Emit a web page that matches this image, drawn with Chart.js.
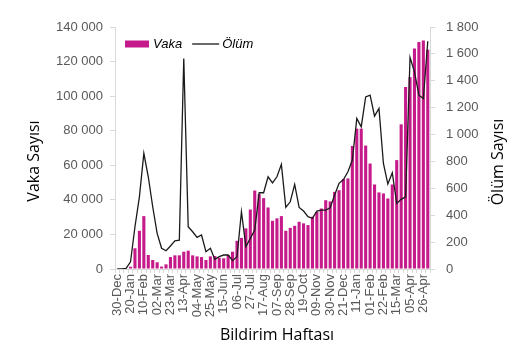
<!DOCTYPE html>
<html lang="tr">
<head>
<meta charset="UTF-8">
<title>Vaka ve Ölüm Sayısı</title>
<script src="https://cdn.jsdelivr.net/npm/chart.js"></script>
<style>
  body { margin: 0; background: #ffffff; }
  #chart { display: block; }
</style>
</head>
<body>
<canvas id="chart" width="518" height="352"></canvas>
<script>
// weekly reporting periods (week start), 30-Dec-2019 .. 03-May-2021
const weeks = ['30-Dec', '06-Jan', '13-Jan', '20-Jan', '27-Jan', '03-Feb', '10-Feb', '17-Feb', '24-Feb',
    '02-Mar', '09-Mar', '16-Mar', '23-Mar', '30-Mar', '06-Apr', '13-Apr', '20-Apr', '27-Apr',
    '04-May', '11-May', '18-May', '25-May', '01-Jun', '08-Jun', '15-Jun', '22-Jun', '29-Jun',
    '06-Jul', '13-Jul', '20-Jul', '27-Jul', '03-Aug', '10-Aug', '17-Aug', '24-Aug', '31-Aug',
    '07-Sep', '14-Sep', '21-Sep', '28-Sep', '05-Oct', '12-Oct', '19-Oct', '26-Oct', '02-Nov',
    '09-Nov', '16-Nov', '23-Nov', '30-Nov', '07-Dec', '14-Dec', '21-Dec', '28-Dec', '04-Jan',
    '11-Jan', '18-Jan', '25-Jan', '01-Feb', '08-Feb', '15-Feb', '22-Feb', '01-Mar', '08-Mar',
    '15-Mar', '22-Mar', '29-Mar', '05-Apr', '12-Apr', '19-Apr', '26-Apr', '03-May'];

// only every third week gets a label on the axis
const labelEvery = 3;

const vaka = [0, 0, 0, 1300, 12000, 22100, 30600, 8100, 5200,
    3900, 1400, 2700, 6900, 7900, 7900, 10000, 10600, 7900,
    7300, 6900, 5200, 7300, 7500, 6500, 6200, 8100, 10000,
    16300, 18000, 23500, 34400, 45400, 43300, 41000, 35600, 27900,
    29300, 30600, 22100, 23800, 25000, 27300, 26400, 25400, 30200,
    33000, 35000, 39800, 39100, 44600, 45600, 52000, 52400, 71200,
    81200, 81200, 71400, 61000, 48900, 44300, 43700, 40800, 48900,
    63000, 83700, 105300, 111000, 127600, 131300, 132200, 126900];

const olum = [0, 0, 5, 54, 314, 537, 860, 686, 463,
    265, 154, 136, 171, 210, 215, 1565, 314, 277,
    235, 253, 129, 154, 72, 92, 104, 104, 62,
    92, 426, 166, 228, 290, 567, 567, 686, 641,
    686, 778, 458, 500, 629, 458, 431, 389, 377,
    431, 438, 438, 455, 550, 637, 666, 723, 810,
    1120, 1057, 1280, 1293, 1137, 1194, 785, 632, 716,
    488, 518, 537, 1573, 1466, 1293, 1268, 1694];

const vakaTicks = { min: 0, max: 140000, step: 20000 };
const olumTicks = { min: 0, max: 1800, step: 200 };

const axisGrey = '#d9d9d9';
const tickGrey = '#595959';
const tickFont = { family: 'Liberation Sans', size: 13 };

// 140000 -> "140 000"
function spaced(v) {
    return String(v).replace(/\B(?=(\d{3})+(?!\d))/g, ' ');
}

// axis titles, drawn where the original puts them
const axisTitles = {
    id: 'axisTitles',
    afterDraw(chart) {
        const ctx = chart.ctx;
        ctx.save();
        ctx.fillStyle = '#000000';
        ctx.font = '16px "Open Sans"';
        ctx.textAlign = 'center';
        ctx.textBaseline = 'middle';
        ctx.fillText('Bildirim Haftası', 277, 335);
        ctx.translate(34, 161);
        ctx.rotate(-Math.PI / 2);
        ctx.fillText('Vaka Sayısı', 0, 0);
        ctx.restore();

        ctx.save();
        ctx.fillStyle = '#000000';
        ctx.font = '16px "Open Sans"';
        ctx.textAlign = 'center';
        ctx.textBaseline = 'middle';
        ctx.translate(498, 162);
        ctx.rotate(-Math.PI / 2);
        ctx.fillText('Ölüm Sayısı', 0, 0);
        ctx.restore();
    }
};

// one-row legend inside the plot, top left (built-in one stacks in chartArea mode)
const inlineLegend = {
    id: 'inlineLegend',
    afterDraw(chart) {
        const ctx = chart.ctx;
        const [bars, line] = chart.data.datasets;
        const x0 = chart.chartArea.left + 10;
        const y = chart.chartArea.top + 17;
        ctx.save();
        ctx.font = 'italic 13px "Liberation Sans"';
        ctx.textBaseline = 'middle';
        ctx.fillStyle = bars.backgroundColor;
        ctx.fillRect(x0, y - 3.5, 24, 7);
        ctx.fillStyle = '#000000';
        ctx.fillText(bars.label, x0 + 28, y);

        const x1 = x0 + 28 + ctx.measureText(bars.label).width + 10;
        ctx.strokeStyle = line.borderColor;
        ctx.lineWidth = line.borderWidth;
        ctx.beginPath();
        ctx.moveTo(x1, y);
        ctx.lineTo(x1 + 27, y);
        ctx.stroke();
        ctx.fillText(line.label, x1 + 30, y);
        ctx.restore();
    }
};

const ctx = document.getElementById('chart').getContext('2d');
new Chart(ctx, {
    data: {
        labels: weeks,
        datasets: [{
            type: 'bar',
            label: 'Vaka',
            data: vaka,
            yAxisID: 'y',
            backgroundColor: '#c51b8a',
            borderWidth: 0,
            barPercentage: 0.7,
            categoryPercentage: 1.0,
            order: 2
        }, {
            type: 'line',
            label: 'Ölüm',
            data: olum,
            yAxisID: 'y1',
            borderColor: '#1a1a1a',
            borderWidth: 1.3,
            pointRadius: 0,
            tension: 0,
            order: 1
        }]
    },
    options: {
        responsive: false,
        animation: false,
        layout: { padding: { top: 27, left: 0, right: 0, bottom: 0 } },
        scales: {
            x: {
                grid: { drawOnChartArea: false, color: axisGrey, tickLength: 4 },
                border: { color: axisGrey },
                ticks: {
                    autoSkip: false,
                    maxRotation: 90,
                    minRotation: 90,
                    padding: 1,
                    color: tickGrey,
                    font: tickFont,
                    callback: (val, i) => (i % labelEvery === 0 ? weeks[i] : '')
                },
                afterFit: (scale) => { scale.height = 83; }
            },
            y: {
                position: 'left',
                min: vakaTicks.min,
                max: vakaTicks.max,
                grid: { drawOnChartArea: false, color: axisGrey, tickLength: 5 },
                border: { color: axisGrey },
                ticks: {
                    stepSize: vakaTicks.step,
                    padding: 7,
                    color: tickGrey,
                    font: tickFont,
                    callback: (v) => spaced(v)
                },
                afterFit: (scale) => { scale.width = 115; }
            },
            y1: {
                position: 'right',
                min: olumTicks.min,
                max: olumTicks.max,
                grid: { drawOnChartArea: false, color: axisGrey, tickLength: 5 },
                border: { color: axisGrey },
                ticks: {
                    stepSize: olumTicks.step,
                    padding: 11,
                    color: tickGrey,
                    font: tickFont,
                    callback: (v) => spaced(v)
                },
                afterFit: (scale) => { scale.width = 88; }
            }
        },
        plugins: {
            legend: { display: false },
            tooltip: { enabled: false }
        }
    },
    plugins: [axisTitles, inlineLegend]
});
</script>
</body>
</html>
